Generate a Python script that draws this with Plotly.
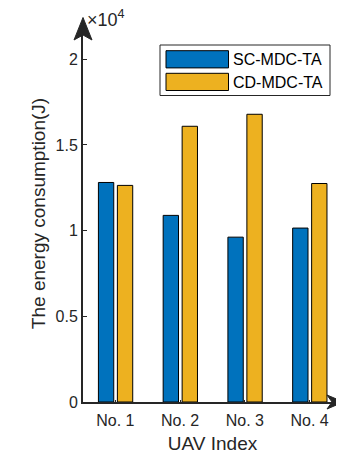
import plotly.graph_objects as go

# ---- data ----
categories = ["No. 1", "No. 2", "No. 3", "No. 4"]
series_names = ["SC-MDC-TA", "CD-MDC-TA"]
sc_mdc_ta = [12810, 10890, 9620, 10150]
cd_mdc_ta = [12640, 16090, 16790, 12750]
y_tick_vals = [0, 5000, 10000, 15000, 20000]
y_tick_text = ["0", "0.5", "1", "1.5", "2"]

colors = ["#0072BD", "#EDB120"]
text_color = "#262626"
font_family = "Liberation Sans, Arial, Helvetica, sans-serif"

# the page body has an 8px margin, so the figure is sized to fit the 344x469 window
OFF = 8
W, H = 344 - OFF, 469 - OFF
# plot area in window pixels: x 83..342, y 25..402
ML, MR, MT, MB = 83 - OFF, 344 - 342, 25 - OFF, 469 - 402
PW, PH = W - ML - MR, H - MT - MB


def px_x(x):
    return (x - OFF - ML) / PW


def px_y(y):
    return (H - MB - (y - OFF)) / PH


xpos = list(range(1, len(categories) + 1))

fig = go.Figure()
fig.add_trace(go.Bar(x=xpos, y=sc_mdc_ta, name=series_names[0], width=0.237, offset=-0.262,
                     marker=dict(color=colors[0], line=dict(color="black", width=1))))
fig.add_trace(go.Bar(x=xpos, y=cd_mdc_ta, name=series_names[1], width=0.237, offset=0.031,
                     marker=dict(color=colors[1], line=dict(color="black", width=1))))

fig.update_layout(
    width=W, height=H,
    margin=dict(l=ML, r=MR, t=MT, b=MB),
    plot_bgcolor="white", paper_bgcolor="white",
    showlegend=False,
    font=dict(family=font_family, color=text_color, size=16),
    xaxis=dict(range=[0.5, 4.5], tickvals=xpos, ticktext=categories,
               showline=True, linecolor=text_color, linewidth=1.5,
               ticks="inside", ticklen=2, tickcolor=text_color,
               showgrid=False, zeroline=False,
               tickfont=dict(size=16), ticklabelstandoff=3,
               title=dict(text="UAV Index", font=dict(size=19), standoff=9)),
    yaxis=dict(range=[0, 22000], tickvals=y_tick_vals, ticktext=y_tick_text,
               showline=True, linecolor=text_color, linewidth=2,
               ticks="inside", ticklen=4, tickcolor=text_color,
               showgrid=False, zeroline=False,
               tickfont=dict(size=16),
               title=dict(text="The energy consumption(J)", font=dict(size=19), standoff=5)),
)

# axis arrowheads
fig.add_shape(type="path", xref="paper", yref="paper", xsizemode="pixel", ysizemode="pixel",
              xanchor=0, yanchor=1, path="M0,7.5 L9,-15 L0,-10 L-9,-15 Z",
              fillcolor=text_color, line=dict(color=text_color, width=1))
fig.add_shape(type="path", xref="paper", yref="paper", xsizemode="pixel", ysizemode="pixel",
              xanchor=1, yanchor=0, path="M1.5,0 L-15,7 L-10,0 L-15,-7 Z",
              fillcolor=text_color, line=dict(color=text_color, width=1))

# exponent label
fig.add_annotation(x=px_x(85), y=px_y(19), xref="paper", yref="paper", xanchor="left", yanchor="middle",
                   text="×10<sup>4</sup>", showarrow=False, font=dict(size=18, color=text_color))

# legend (drawn manually to match wide swatches)
fig.add_shape(type="rect", xref="paper", yref="paper",
              x0=px_x(160), x1=px_x(330), y0=px_y(95.5), y1=px_y(45),
              line=dict(color=text_color, width=1), fillcolor="white")
sw_tops = [50.7, 73.3]
for name, col, top in zip(series_names, colors, sw_tops):
    fig.add_shape(type="rect", xref="paper", yref="paper",
                  x0=px_x(166), x1=px_x(228.5), y0=px_y(top + 17.2), y1=px_y(top),
                  line=dict(color="black", width=1), fillcolor=col)
    fig.add_annotation(x=px_x(231), y=px_y(top + 8.8), xref="paper", yref="paper",
                       xanchor="left", yanchor="middle", text=name, showarrow=False,
                       font=dict(size=16, color="black"))

fig.write_html("out.html")
